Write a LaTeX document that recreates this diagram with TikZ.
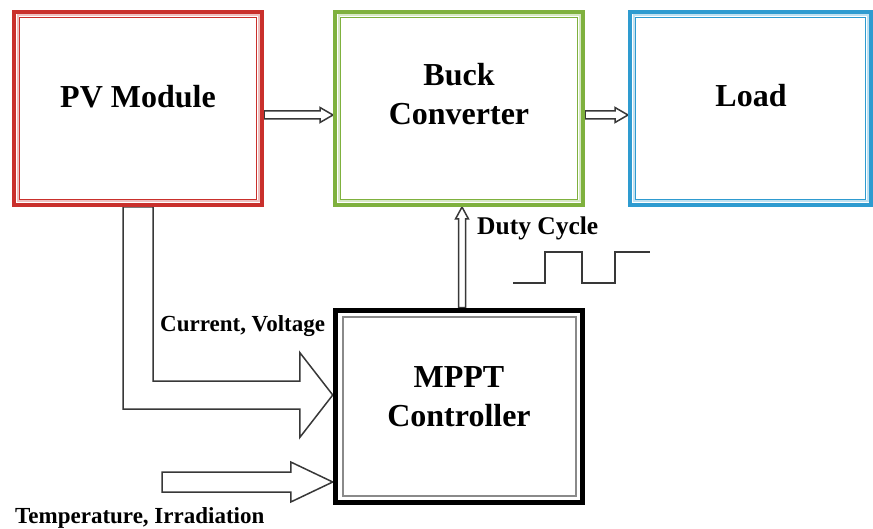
\documentclass[tikz,border=0pt]{standalone}
\usepackage{fontspec}
\setmainfont{Liberation Serif}
\usepackage{xcolor}
\usetikzlibrary{calc, backgrounds}
\definecolor{PvRed}{HTML}{C9302C}
\definecolor{BuckGreen}{HTML}{7FB13E}
\definecolor{LoadBlue}{HTML}{2E9BD0}
\definecolor{ArrowInk}{HTML}{383838}
\definecolor{CtrlGray}{HTML}{8A8A8A}

\begin{document}
\begin{tikzpicture}[
    x=1pt, y=-1pt,
    block/.style={
      draw=#1,
      line width=4pt,
      minimum width=248pt,
      minimum height=193pt,
      inner sep=0pt,
      path picture={
        \draw[#1!30, line width=2pt]
          ([shift={(3.5pt,-3.5pt)}]path picture bounding box.north west) rectangle
          ([shift={(-3.5pt,3.5pt)}]path picture bounding box.south east);
        \draw[#1, line width=1.5pt]
          ([shift={(5.4pt,-5.4pt)}]path picture bounding box.north west) rectangle
          ([shift={(-5.4pt,5.4pt)}]path picture bounding box.south east);
      },
    },
    ctrlblock/.style={
      draw=black,
      line width=5.5pt,
      minimum width=247pt,
      minimum height=192pt,
      inner sep=0pt,
      path picture={
        \draw[CtrlGray, line width=2pt]
          ([shift={(7pt,-7pt)}]path picture bounding box.north west) rectangle
          ([shift={(-7pt,7pt)}]path picture bounding box.south east);
      },
    },
    boxtext/.style={font=\fontsize{32}{39}\selectfont\bfseries, align=center, inner sep=0pt},
    tag/.style={font=\fontsize{23}{27}\selectfont\bfseries, inner sep=0pt},
    hollow/.style={draw=ArrowInk, fill=white, line width=1.5pt, line join=miter},
    wave/.style={draw=ArrowInk, line width=1.3pt},
  ]
    \useasboundingbox (0,0) rectangle (873,529);

    % blocks
    \node[block=PvRed] (pv) at (138,108.5) {};
    \node[block=BuckGreen] (buck) at (459,108.5) {};
    \node[block=LoadBlue, minimum width=241pt] (load) at (750.5,108.5) {};
    \node[ctrlblock] (mppt) at (459,406.5) {};

    \node[boxtext, anchor=base] (pvname) at (138,108) {PV Module};
    \node[boxtext] (buckname) at (459,94.5) {Buck\\Converter};
    \node[boxtext, anchor=base] (loadname) at (751,107) {Load};
    \node[boxtext] (mpptname) at (459,396.5) {MPPT\\Controller};

    % labels
    \node[tag, anchor=base west] (cvlabel) at (160,332) {Current, Voltage};
    \node[tag, anchor=base west] (tilabel) at (15,523) {Temperature, Irradiation};
    \node[tag, font=\fontsize{25.5}{30}\selectfont\bfseries, anchor=base west] (dutylabel) at (477,235) {Duty Cycle};

    % end points
    \coordinate (pvout) at ([yshift=-6.5pt]pv.east);
    \coordinate (buckin) at ([yshift=-6.5pt]buck.west);
    \coordinate (buckout) at ([yshift=-6.5pt]buck.east);
    \coordinate (loadin) at ([yshift=-6.5pt]load.west);
    \coordinate (dutyfoot) at ([xshift=3pt]mppt.north);
    \coordinate (dutytip) at ([xshift=3pt]buck.south);
    \coordinate (cvtip) at ([yshift=11.5pt]mppt.west);
    \coordinate (titip) at ([yshift=-75.5pt]mppt.west);
    \coordinate (tiin) at (162,482);

    \begin{scope}[on background layer]
      % power path
      \draw[hollow] ($(pvout)+(0,-4)$) -- ($(buckin)+(-13,-4)$) -- ($(buckin)+(-13,-7.5)$)
        -- (buckin) -- ($(buckin)+(-13,7.5)$) -- ($(buckin)+(-13,4)$) -- ($(pvout)+(0,4)$) -- cycle;
      \draw[hollow] ($(buckout)+(0,-4)$) -- ($(loadin)+(-13,-4)$) -- ($(loadin)+(-13,-7.5)$)
        -- (loadin) -- ($(loadin)+(-13,7.5)$) -- ($(loadin)+(-13,4)$) -- ($(buckout)+(0,4)$) -- cycle;
      % duty cycle
      \draw[hollow] ($(dutyfoot)+(-3.5,0)$) -- ($(dutytip)+(-3.5,12)$) -- ($(dutytip)+(-6.5,12)$)
        -- (dutytip) -- ($(dutytip)+(6.5,12)$) -- ($(dutytip)+(3.5,12)$) -- ($(dutyfoot)+(3.5,0)$) -- cycle;
      % current, voltage
      \draw[hollow] ($(pv.south)+(15,0)$) |- ($(cvtip)+(-33,-14)$) -- ($(cvtip)+(-33,-42.5)$)
        -- (cvtip) -- ($(cvtip)+(-33,42.5)$) -- ($(cvtip)+(-33,14)$) -| ($(pv.south)+(-15,0)$) -- cycle;
      % temperature, irradiation
      \draw[hollow] ($(tiin)+(0,-10)$) -- ($(titip)+(-42,-10)$) -- ($(titip)+(-42,-20)$)
        -- (titip) -- ($(titip)+(-42,20)$) -- ($(titip)+(-42,10)$) -- ($(tiin)+(0,10)$) -- cycle;
    \end{scope}

    % pwm signal
    \draw[wave] (513,283) -- ++(32,0) -- ++(0,-31) -- ++(37,0) -- ++(0,31) -- ++(33,0) -- ++(0,-31) -- ++(35,0);
  \end{tikzpicture}
\end{document}
